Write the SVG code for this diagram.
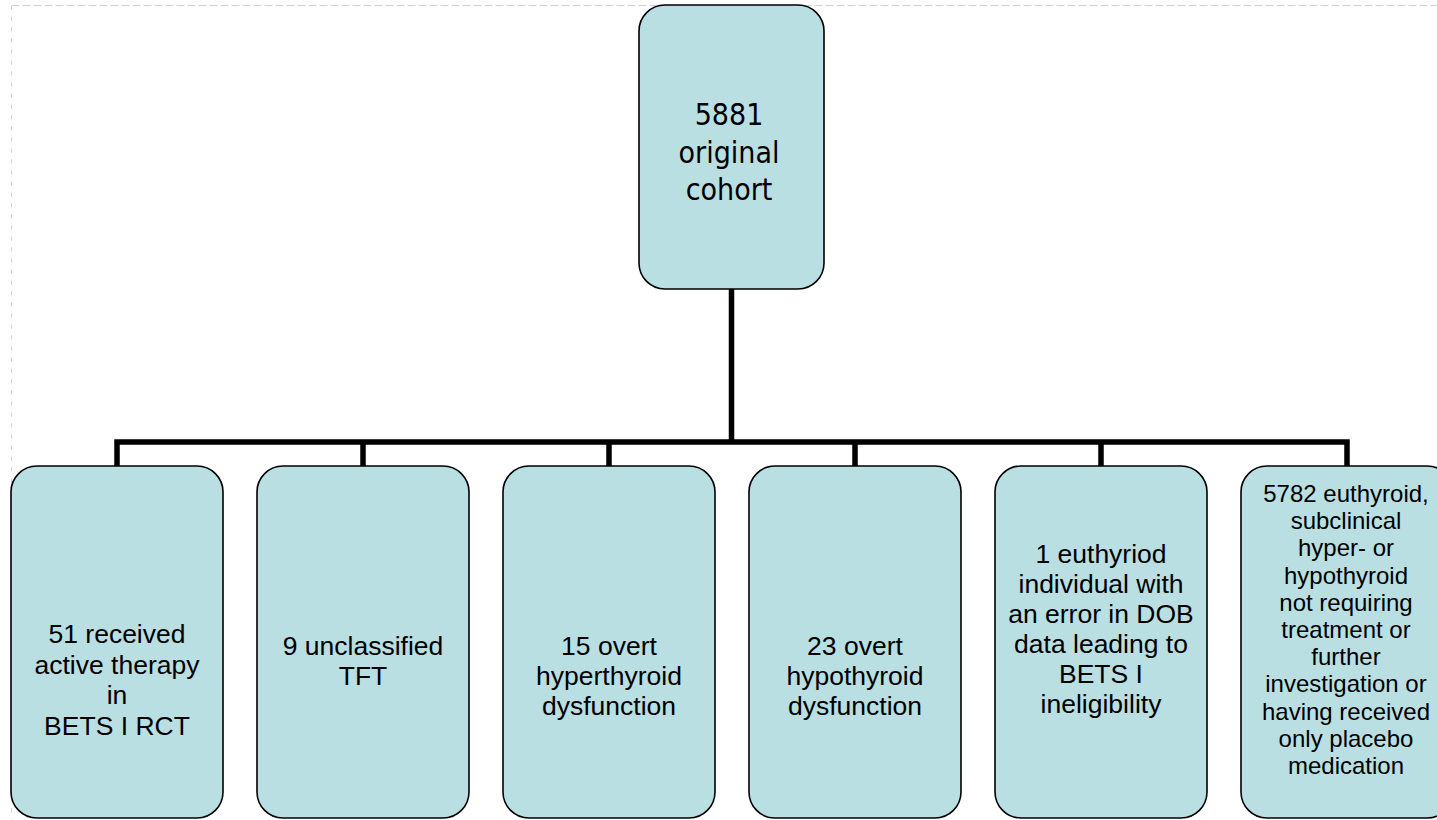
<svg xmlns="http://www.w3.org/2000/svg" width="1437" height="820" viewBox="0 0 1437 820">
  <style>
    .box { fill: #B9DFE3; stroke: #000; stroke-width: 1.6; }
    .t { font-family: "Liberation Sans", Arial, sans-serif; font-size: 26.5px; fill: #000; text-anchor: middle; }
    .t6 { font-family: "Liberation Sans", Arial, sans-serif; font-size: 24px; fill: #000; text-anchor: middle; }
    .top { font-family: "DejaVu Sans Condensed", "DejaVu Sans", sans-serif; font-stretch: condensed; font-size: 30px; fill: #000; text-anchor: middle; }
    .conn { stroke: #000; stroke-width: 5.5; fill: none; }
    .frame { stroke: #cfcfcf; stroke-width: 1; fill: none; }
  </style>
  <rect width="1437" height="820" fill="#fff"/>
  <g id="frame">
    <line class="frame" x1="11.5" y1="5.5" x2="1437" y2="5.5" stroke-dasharray="8,3"/>
    <line class="frame" x1="11.5" y1="5.5" x2="11.5" y2="820" stroke-dasharray="4,7"/>
  </g>
  <g id="connectors">
    <line class="conn" x1="731.5" y1="289" x2="731.5" y2="442"/>
    <polyline class="conn" points="117,466 117,442 1347,442 1347,466" stroke-linejoin="miter"/>
    <line class="conn" x1="363" y1="442" x2="363" y2="466"/>
    <line class="conn" x1="609" y1="442" x2="609" y2="466"/>
    <line class="conn" x1="855" y1="442" x2="855" y2="466"/>
    <line class="conn" x1="1101" y1="442" x2="1101" y2="466"/>
  </g>
  <g id="node-cohort">
    <rect class="box" x="639" y="5" width="185" height="284" rx="26" ry="26"/>
    <text class="top" x="729" y="125">5881</text>
    <text class="top" x="729" y="163">original</text>
    <text class="top" x="729" y="200">cohort</text>
  </g>
  <g id="node-active-therapy">
    <rect class="box" x="11" y="466" width="212" height="352" rx="26" ry="26"/>
    <text class="t" x="117" y="643">51 received</text>
    <text class="t" x="117" y="674">active therapy</text>
    <text class="t" x="117" y="704">in</text>
    <text class="t" x="117" y="735">BETS I RCT</text>
  </g>
  <g id="node-unclassified">
    <rect class="box" x="257" y="466" width="212" height="352" rx="26" ry="26"/>
    <text class="t" x="363" y="655">9 unclassified</text>
    <text class="t" x="363" y="685">TFT</text>
  </g>
  <g id="node-hyperthyroid">
    <rect class="box" x="503" y="466" width="212" height="352" rx="26" ry="26"/>
    <text class="t" x="609" y="655">15 overt</text>
    <text class="t" x="609" y="685">hyperthyroid</text>
    <text class="t" x="609" y="715">dysfunction</text>
  </g>
  <g id="node-hypothyroid">
    <rect class="box" x="749" y="466" width="212" height="352" rx="26" ry="26"/>
    <text class="t" x="855" y="655">23 overt</text>
    <text class="t" x="855" y="685">hypothyroid</text>
    <text class="t" x="855" y="715">dysfunction</text>
  </g>
  <g id="node-dob-error">
    <rect class="box" x="995" y="466" width="212" height="352" rx="26" ry="26"/>
    <text class="t" x="1101" y="563">1 euthyriod</text>
    <text class="t" x="1101" y="593">individual with</text>
    <text class="t" x="1101" y="623">an error in DOB</text>
    <text class="t" x="1101" y="653">data leading to</text>
    <text class="t" x="1101" y="683">BETS I</text>
    <text class="t" x="1101" y="713">ineligibility</text>
  </g>
  <g id="node-euthyroid">
    <rect class="box" x="1241" y="466" width="212" height="352" rx="26" ry="26"/>
    <text class="t6" x="1346" y="502">5782 euthyroid,</text>
    <text class="t6" x="1346" y="529">subclinical</text>
    <text class="t6" x="1346" y="556">hyper- or</text>
    <text class="t6" x="1346" y="584">hypothyroid</text>
    <text class="t6" x="1346" y="611">not requiring</text>
    <text class="t6" x="1346" y="638">treatment or</text>
    <text class="t6" x="1346" y="665">further</text>
    <text class="t6" x="1346" y="692">investigation or</text>
    <text class="t6" x="1346" y="720">having received</text>
    <text class="t6" x="1346" y="747">only placebo</text>
    <text class="t6" x="1346" y="774">medication</text>
  </g>
</svg>
